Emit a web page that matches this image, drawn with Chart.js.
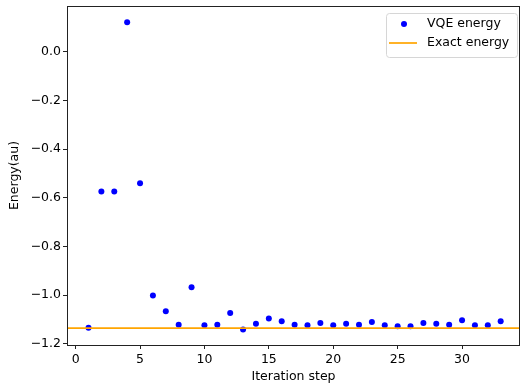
<!DOCTYPE html>
<html>
<head>
<meta charset="utf-8">
<script src="https://cdn.jsdelivr.net/npm/chart.js@4.4.0/dist/chart.umd.min.js"></script>
<style>
html, body { margin: 0; padding: 0; background: #fff; }
</style>
</head>
<body>
<canvas id="energy" width="520" height="389"></canvas>
<script>
// VQE energy per optimizer iteration vs. exact ground-state energy
var steps = [1, 2, 3, 4, 5, 6, 7, 8, 9, 10, 11, 12, 13, 14, 15, 16, 17,
	18, 19, 20, 21, 22, 23, 24, 25, 26, 27, 28, 29, 30, 31, 32, 33];
var vqeEnergy = [-1.134, -0.574, -0.574, 0.121, -0.540, -1.002, -1.066, -1.122, -0.968, -1.124, -1.122,
	-1.073, -1.141, -1.118, -1.096, -1.107, -1.122, -1.124, -1.115, -1.124, -1.118, -1.122,
	-1.111, -1.124, -1.128, -1.128, -1.115, -1.118, -1.122, -1.103, -1.124, -1.124, -1.107];
var exactEnergy = -1.136;
var xLimits = [-0.67, 34.5];
var yLimits = [-1.205, 0.188];

var FONT = 'DejaVu Sans';
var FONT_SIZE = 12.5;

var points = [];
for (var i in steps) {
	points.push({x: steps[i], y: vqeEnergy[i]});
}

function minusSign(v, digits) {
	return v.toFixed(digits).replace('-', '\u2212');
}

// box around the axes, matplotlib style
var framePlugin = {
	id: 'frame',
	afterDatasetsDraw: function(chart) {
		var a = chart.chartArea;
		var ctx = chart.ctx;
		ctx.save();
		ctx.strokeStyle = '#222';
		ctx.lineWidth = 1;
		ctx.strokeRect(Math.round(a.left) + 0.5, Math.round(a.top) + 0.5,
			Math.round(a.right - a.left) - 1, Math.round(a.bottom - a.top));
		ctx.restore();
	}
};

// legend box in the upper right corner of the axes
var legendPlugin = {
	id: 'boxLegend',
	afterDraw: function(chart) {
		var ctx = chart.ctx;
		var a = chart.chartArea;
		var sets = chart.data.datasets;
		var w = 131, h = 44;
		var x = a.right - w - 3, y = a.top + 7;
		ctx.save();
		ctx.beginPath();
		ctx.roundRect(x + 0.5, y + 0.5, w, h, 3);
		ctx.fillStyle = 'rgba(255,255,255,0.8)';
		ctx.fill();
		ctx.strokeStyle = '#d6d6d6';
		ctx.lineWidth = 1;
		ctx.stroke();

		ctx.font = FONT_SIZE + 'px "' + FONT + '"';
		ctx.textBaseline = 'middle';
		ctx.fillStyle = '#000';

		// VQE energy marker
		var vqe = sets[1];
		ctx.beginPath();
		ctx.arc(x + 18, y + 11, 3, 0, Math.PI * 2);
		ctx.fillStyle = vqe.backgroundColor;
		ctx.fill();
		ctx.fillStyle = '#000';
		ctx.fillText(vqe.label, x + 41, y + 11);

		// exact energy line sample
		var exact = sets[0];
		ctx.beginPath();
		ctx.moveTo(x + 3, y + 30);
		ctx.lineTo(x + 31, y + 30);
		ctx.strokeStyle = exact.borderColor;
		ctx.lineWidth = 1.7;
		ctx.stroke();
		ctx.fillText(exact.label, x + 41, y + 30);
		ctx.restore();
	}
};

var ctx = document.getElementById('energy');
var energyChart = new Chart(ctx, {
	type: 'scatter',
	data: {
		datasets: [
			{
				type: 'line',
				label: 'Exact energy',
				data: [{x: xLimits[0], y: exactEnergy}, {x: xLimits[1], y: exactEnergy}],
				borderColor: 'orange',
				backgroundColor: 'orange',
				borderWidth: 1.7,
				pointRadius: 0,
				fill: false,
				order: 0
			},
			{
				label: 'VQE energy',
				data: points,
				backgroundColor: '#0000ff',
				borderColor: '#0000ff',
				borderWidth: 0,
				pointRadius: 3,
				pointHoverRadius: 3,
				order: 1
			}
		]
	},
	options: {
		responsive: false,
		animation: false,
		events: [],
		layout: {autoPadding: false, padding: {top: 6, right: 0, left: 0, bottom: 0}},
		plugins: {
			legend: {display: false},
			tooltip: {enabled: false}
		},
		scales: {
			x: {
				type: 'linear',
				min: xLimits[0],
				max: xLimits[1],
				afterFit: function(scale) {
					scale.height = 44;
					scale.paddingLeft = 0;
					scale.paddingRight = 0;
				},
				border: {display: false},
				grid: {drawOnChartArea: false, drawTicks: true, tickLength: 4, color: '#222'},
				ticks: {
					stepSize: 5,
					includeBounds: false,
					padding: 3,
					maxRotation: 0,
					color: '#000',
					font: {family: FONT, size: FONT_SIZE},
					callback: function(v) { return minusSign(v, 0); }
				},
				title: {
					display: true,
					text: 'Iteration step',
					color: '#000',
					font: {family: FONT, size: FONT_SIZE},
					padding: {top: 0, bottom: 4.5}
				}
			},
			y: {
				type: 'linear',
				min: yLimits[0],
				max: yLimits[1],
				afterFit: function(scale) {
					scale.width = 67;
					scale.paddingTop = 0;
					scale.paddingBottom = 0;
				},
				border: {display: false},
				grid: {drawOnChartArea: false, drawTicks: true, tickLength: 4, color: '#222'},
				ticks: {
					stepSize: 0.2,
					includeBounds: false,
					padding: 2,
					color: '#000',
					font: {family: FONT, size: FONT_SIZE},
					callback: function(v) { return minusSign(v, 1); }
				},
				title: {
					display: true,
					text: 'Energy(au)',
					color: '#000',
					font: {family: FONT, size: FONT_SIZE},
					padding: {top: 7.5, bottom: 0}
				}
			}
		}
	},
	plugins: [framePlugin, legendPlugin]
});
</script>
</body>
</html>
